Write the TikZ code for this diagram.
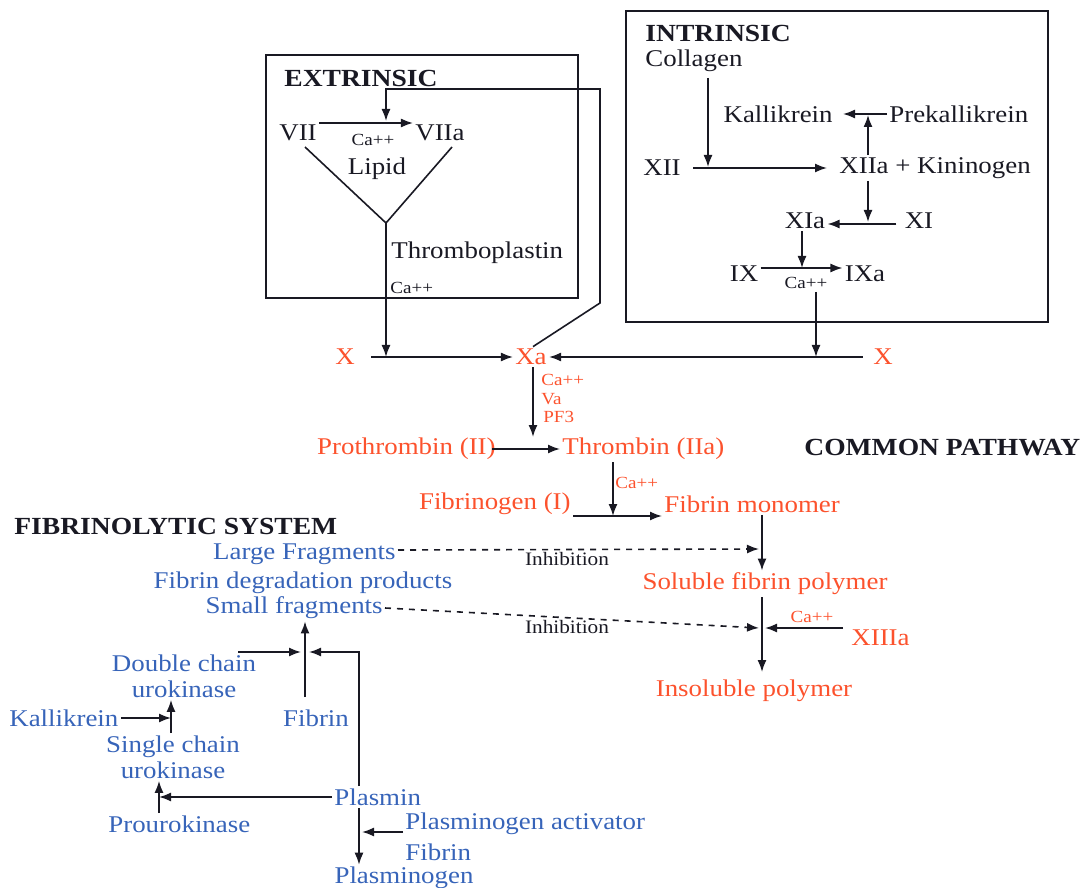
\documentclass[tikz,border=0pt]{standalone}
\usepackage{fontspec}
\setmainfont{Liberation Serif}[FakeStretch=1.12]
\usepackage{xcolor}
\usepackage{tikz}
\usetikzlibrary{
    arrows.meta,
    positioning,
    calc
}

\definecolor{redtxt}{RGB}{252,82,45}
\definecolor{bluetxt}{RGB}{55,100,185}
\definecolor{ink}{RGB}{25,25,35}

\begin{document}
\begin{tikzpicture}[
        x=0.5pt, y=-0.5pt,
        lbl/.style={
            font=\fontsize{12}{13}\selectfont,
            text=ink,
            inner sep=1pt
        },
        redlbl/.style={
            lbl,
            text=redtxt
        },
        bluelbl/.style={
            lbl,
            text=bluetxt
        },
        head/.style={
            font=\bfseries\fontsize{12.3}{14}\selectfont,
            text=ink,
            inner sep=1pt
        },
        small/.style={
            font=\fontsize{8.5}{10}\selectfont,
            text=ink,
            inner sep=0pt
        },
        frame/.style={
            draw=ink,
            line width=1.2pt
        },
        link/.style={
            draw=ink,
            line width=0.8pt
        },
        line/.style={
            link,
            -{Latex[length=6pt,width=4.5pt]}
        },
        inhib/.style={
            line,
            dashed
        }
    ]

    \useasboundingbox (0,0) rectangle (1089,888);

    \draw[frame] (266,55) rectangle (578,298);
    \draw[frame] (626,11) rectangle (1048,322);

    \node[head, anchor=west] (extr) at (282,78) {EXTRINSIC};
    \node[lbl] (vii) at (298,133) {VII};
    \node[lbl] (viia) at (440,133) {VIIa};
    \node[small] (ca1) at (373,140) {Ca++};
    \node[lbl] (lipid) at (377,169) {Lipid};
    \node[lbl, anchor=west] (thrp) at (389,253) {Thromboplastin};
    \node[small, anchor=west] (ca2) at (390,288) {Ca++};

    \coordinate (vl) at (305,147);
    \coordinate (vr) at (452,147);
    \coordinate (vtip) at (386,223);
    \coordinate (jx) at (386,357);
    \coordinate (fb1) at (600,303);
    \coordinate (fb2) at (600,89);
    \coordinate (fb3) at (386,89);
    \coordinate (jvii) at (386,121);

    \draw[line] ([yshift=5pt]vii.east) -- ([yshift=5pt]viia.west);
    \draw[link] (vl) -- (vtip) -- (vr);
    \draw[line] (vtip) -- (jx);

    \node[head, anchor=west] (intr) at (643,33) {INTRINSIC};
    \node[lbl, anchor=west] (coll) at (643,61) {Collagen};
    \node[lbl, anchor=east] (kal) at (835,114) {Kallikrein};
    \node[lbl, anchor=west] (prek) at (887,114) {Prekallikrein};
    \node[lbl] (xii) at (662,168) {XII};
    \node[lbl, anchor=west] (xiia) at (837,168) {XIIa + Kininogen};
    \node[lbl] (xia) at (805,221) {XIa};
    \node[lbl] (xi) at (919,221) {XI};
    \node[lbl] (ix) at (744,274) {IX};
    \node[lbl] (ixa) at (865,274) {IXa};
    \node[small] (ca3) at (806,283) {Ca++};

    \coordinate (collb) at (708,78);
    \coordinate (jxii) at (708,167);
    \coordinate (jkal) at (868,115);
    \coordinate (jxi) at (868,222);
    \coordinate (jix) at (802,268);
    \coordinate (ixd) at (816,292);
    \coordinate (jxa) at (816,357);

    \draw[line] (collb) -- (jxii);
    \draw[line] ([xshift=5pt]xii.east) -- ([xshift=-5pt]xiia.west);
    \draw[line] (prek.west) -- ([xshift=4pt]kal.east);
    \draw[line] (xiia.north -| jkal) -- (jkal);
    \draw[line] (xiia.south -| jxi) -- (jxi);
    \draw[line] ([shift={(-3pt,-1.5pt)}]xi.west) -- ([yshift=-1.5pt]xia.east);
    \draw[line] (xia.south -| jix) -- (jix);
    \draw[line] ([yshift=3pt]ix.east) -- ([yshift=3pt]ixa.west);
    \draw[line] (ixd) -- (jxa);

    \node[redlbl] (x1) at (345,357) {X};
    \node[redlbl] (xa) at (531,357) {Xa};
    \node[redlbl] (x2) at (883,357) {X};

    \draw[line] ([xshift=7pt]x1.east) -- (xa.west);
    \draw[line] ([xshift=-4pt]x2.west) -- (xa.east);
    \draw[line] ([xshift=1pt]xa.north) -- (fb1) -- (fb2) -- (fb3) -- (jvii);

    \node[small, text=redtxt, anchor=west] (ca4) at (541,380) {Ca++};
    \node[small, text=redtxt, anchor=west] (va) at (541,399) {Va};
    \node[small, text=redtxt, anchor=west] (pf3) at (543,417) {PF3};
    \node[redlbl, anchor=east] (pro) at (498,449) {Prothrombin (II)};
    \node[redlbl, anchor=west] (thr) at (560,449) {Thrombin (IIa)};
    \node[head, anchor=west] (common) at (802,448) {COMMON PATHWAY};
    \node[small, text=redtxt, anchor=west] (ca5) at (615,483) {Ca++};
    \node[redlbl, anchor=east] (fbg) at (573,504) {Fibrinogen (I)};
    \node[redlbl, anchor=west] (fmono) at (662,504) {Fibrin monomer};
    \node[redlbl] (sol) at (765,584) {Soluble fibrin polymer};
    \node[small, text=redtxt] (ca6) at (812,617) {Ca++};
    \node[redlbl, anchor=west] (x13) at (849,638) {XIIIa};
    \node[redlbl] (insol) at (754,691) {Insoluble polymer};

    \coordinate (jpro) at (533,437);
    \coordinate (jfib) at (613,516);
    \coordinate (jinh1) at (759,549);
    \coordinate (jinh2) at (759,628);
    \coordinate (jx13) at (765,628);
    \coordinate (jins) at (762,672);

    \draw[line] (xa.south -| jpro) -- (jpro);
    \draw[line] ([xshift=-3pt]pro.east) -- (thr.west);
    \draw[line] (thr.south -| jfib) -- (jfib);
    \draw[line] ([yshift=-6pt]fbg.east) -- ([yshift=-6pt]fmono.west);
    \draw[line] (fmono.south -| jins) -- (sol.north -| jins);
    \draw[line] (sol.south -| jins) -- (jins);
    \draw[line] ([xshift=-3pt]x13.west |- jx13) -- (jx13);

    \node[head, anchor=west] (fibsys) at (12,526) {FIBRINOLYTIC SYSTEM};
    \node[bluelbl, anchor=east] (large) at (398,554) {Large Fragments};
    \node[bluelbl] (fdp) at (303,583) {Fibrin degradation products};
    \node[bluelbl, anchor=east] (smallfr) at (385,608) {Small fragments};
    \node[bluelbl, align=center] (dcu) at (184,676) {Double chain\\urokinase};
    \node[bluelbl, anchor=west] (kal2) at (7,718) {Kallikrein};
    \node[bluelbl] (fib2) at (316,718) {Fibrin};
    \node[bluelbl, align=center] (scu) at (173,757) {Single chain\\urokinase};
    \node[bluelbl, anchor=west] (plas) at (332,797) {Plasmin};
    \node[bluelbl, anchor=west] (pact) at (403,824) {Plasminogen activator};
    \node[bluelbl, anchor=west] (prou) at (106,824) {Prourokinase};
    \node[bluelbl, anchor=west] (fib3) at (403,852) {Fibrin};
    \node[bluelbl] (plgn) at (404,878) {Plasminogen};

    \node[small, font=\fontsize{9.5}{11}\selectfont] (inh1) at (567,559) {Inhibition};
    \node[small, font=\fontsize{9.5}{11}\selectfont] (inh2) at (567,627) {Inhibition};

    \draw[inhib] ([yshift=2pt]large.east) -- (jinh1);
    \draw[inhib] (smallfr.east) -- (jinh2);

    \coordinate (fibtop) at (305,697);
    \coordinate (jfdp) at (305,652);
    \coordinate (dcl) at (238,652);
    \coordinate (plr) at (359,652);
    \coordinate (jdcu) at (171,717);
    \coordinate (jscu) at (159,797);
    \coordinate (jpa) at (362,832);

    \draw[line] (fibtop) -- (smallfr.south -| fibtop);
    \draw[line] (dcl) -- ([xshift=-2pt]jfdp);
    \draw[line] (plas.north -| plr) -- (plr) -- ([xshift=2pt]jfdp);
    \draw[line] (kal2.east) -- (kal2.east -| jdcu);
    \draw[line] (scu.north -| jdcu) -- (dcu.south -| jdcu);
    \draw[line] (prou.north -| jscu) -- (scu.south -| jscu);
    \draw[line] (plas.west) -- (plas.west -| jscu);
    \draw[line] (plas.south -| plr) -- (plgn.north -| plr);
    \draw[line] ([yshift=-4pt]pact.west) -- ([yshift=-4pt]pact.west -| jpa);

\end{tikzpicture}
\end{document}
